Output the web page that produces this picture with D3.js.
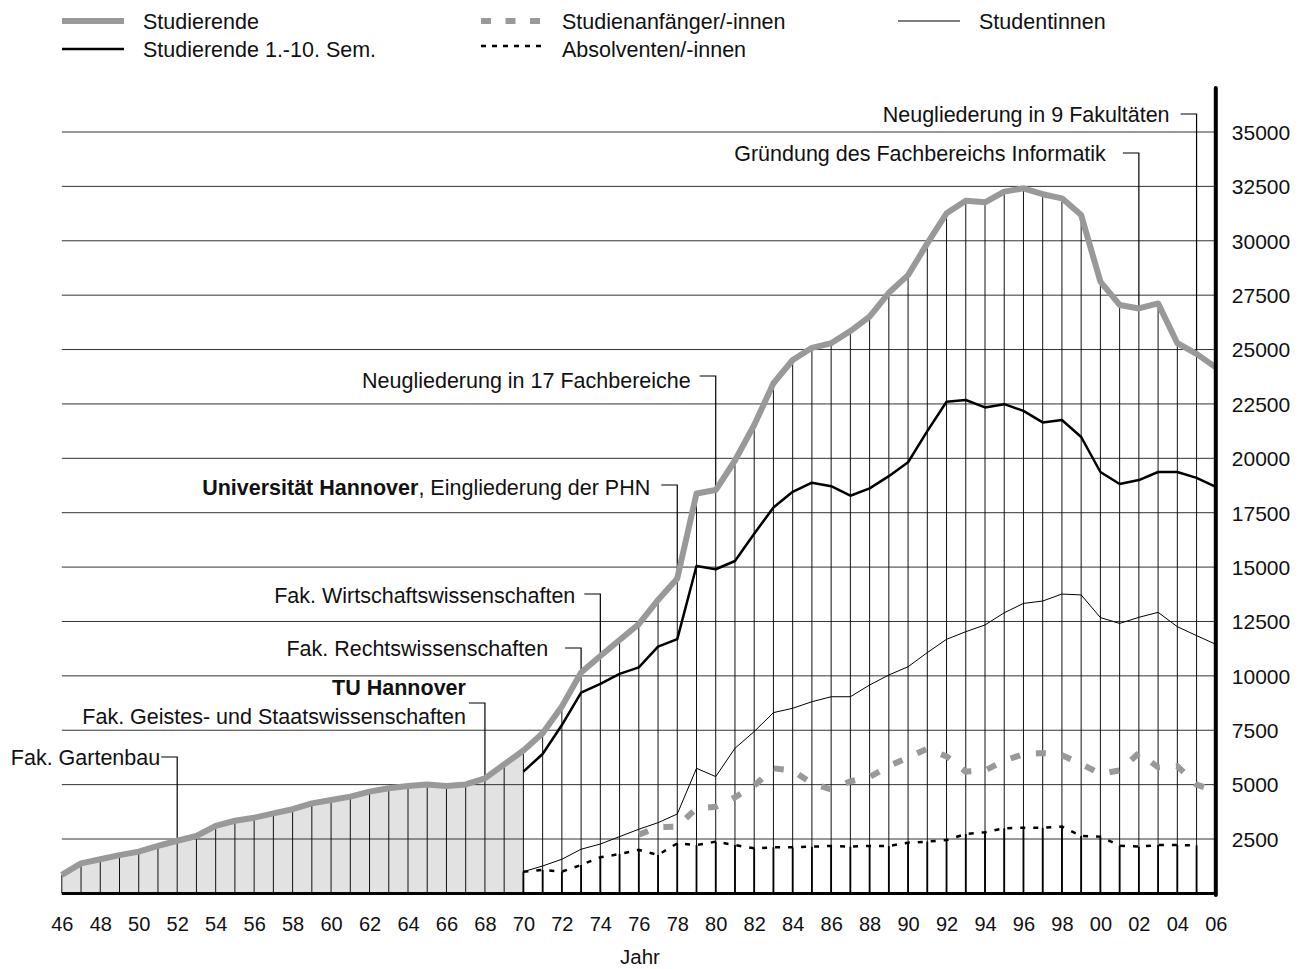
<!DOCTYPE html>
<html lang="de">
<head>
<meta charset="utf-8">
<title>Studierende 1946-2006</title>
<style>
  body { margin: 0; background: #fff; }
  svg { display: block; font-family: "Liberation Sans", Arial, sans-serif; }
  .lbl { font-size: 21.5px; fill: #111; }
</style>
</head>
<body>
<script src="https://cdnjs.cloudflare.com/ajax/libs/d3/7.8.5/d3.min.js"></script>
<script>
// ---- data ----
const years = d3.range(1946, 2007);
const xTicks = d3.range(1946, 2007, 2);
const yTicks = d3.range(2500, 35001, 2500);

// Studierende, 1946-2006
const studierende = [850, 1380, 1570, 1760, 1920, 2180, 2420, 2640, 3100, 3340,
  3480, 3680, 3870, 4140, 4290, 4450, 4680, 4830, 4940, 5010,
  4940, 5010, 5290, 5930, 6570, 7360, 8590, 10150, 10910, 11650,
  12380, 13490, 14480, 18380, 18540, 19900, 21530, 23450, 24520, 25080,
  25290, 25850, 26510, 27610, 28420, 29880, 31260, 31840, 31770, 32260,
  32410, 32140, 31950, 31180, 28120, 27050, 26890, 27120, 25290, 24800, 24180];

// Studierende 1.-10. Sem., 1970-2006
const sem110Start = 1970;
const sem110 = [5600, 6410, 7740, 9230, 9630, 10090, 10390, 11340, 11690, 15050,
  14900, 15280, 16530, 17740, 18460, 18880, 18720, 18280, 18620, 19180,
  19820, 21250, 22600, 22680, 22340, 22490, 22180, 21650, 21760, 20980,
  19370, 18820, 19000, 19370, 19370, 19100, 18690];

// Studentinnen, 1970-2006
const studentinnenStart = 1970;
const studentinnen = [1000, 1260, 1570, 2030, 2270, 2610, 2950, 3250, 3650, 5750,
  5370, 6670, 7440, 8310, 8510, 8810, 9040, 9040, 9580, 10040,
  10420, 11070, 11680, 12030, 12340, 12900, 13330, 13440, 13760, 13720,
  12680, 12410, 12690, 12920, 12260, 11850, 11450];

// Studienanfänger/-innen, 1976-2006
const anfaengerStart = 1976;
const anfaenger = [2700, 3050, 3070, 3910, 3980, 4420, 4950, 5750, 5650, 5050,
  4780, 5150, 5350, 5850, 6250, 6650, 6300, 5600, 5650, 6100,
  6400, 6450, 6350, 5950, 5500, 5650, 6450, 5800, 5850, 5000, 4700];

// Absolventen/-innen, 1970-2005
const absolventenStart = 1970;
const absolventen = [1000, 1080, 1000, 1310, 1660, 1810, 2000, 1770, 2300, 2220,
  2380, 2220, 2070, 2120, 2120, 2150, 2180, 2150, 2180, 2180,
  2330, 2380, 2450, 2730, 2810, 2990, 3020, 3020, 3070, 2640,
  2610, 2190, 2150, 2220, 2220, 2210];

const legendLabels = ["Studierende", "Studierende 1.-10. Sem.", "Studienanfänger/-innen",
  "Absolventen/-innen", "Studentinnen"];

// notes: year, lines of [text, bold] segments
const noteYears = [1952, 1968, 1973, 1974, 1978, 1980, 2002, 2005];
const noteLines = [
  [[["Fak. Gartenbau", 0]]],
  [[["TU Hannover", 1]], [["Fak. Geistes- und Staatswissenschaften", 0]]],
  [[["Fak. Rechtswissenschaften", 0]]],
  [[["Fak. Wirtschaftswissenschaften", 0]]],
  [[["Universität Hannover", 1], [", Eingliederung der PHN", 0]]],
  [[["Neugliederung in 17 Fachbereiche", 0]]],
  [[["Gründung des Fachbereichs Informatik", 0]]],
  [[["Neugliederung in 9 Fakultäten", 0]]]
];

// ---- layout ----
const W = 1304, H = 969;
const x = d3.scaleLinear().domain([1946, 2006]).range([61.8, 1215.8]);
const y = d3.scaleLinear().domain([0, 35000]).range([893.4, 132]);

const svg = d3.select("body").append("svg").attr("width", W).attr("height", H);
svg.append("rect").attr("width", W).attr("height", H).attr("fill", "#fff");

const pts = (arr, start) => arr.map((v, i) => [start + i, v]);
const stud = pts(studierende, 1946);
const line = d3.line().x(d => x(d[0])).y(d => y(d[1]));

// gray area up to 1970
const area = d3.area().x(d => x(d[0])).y0(y(0)).y1(d => y(d[1]));
svg.append("path")
  .datum(stud.filter(d => d[0] <= 1970))
  .attr("d", area)
  .attr("fill", "#e2e2e2");

// gridlines
svg.append("g").selectAll("line").data(yTicks).join("line")
  .attr("x1", x(1946)).attr("x2", x(2006))
  .attr("y1", d => y(d)).attr("y2", d => y(d))
  .attr("stroke", "#333").attr("stroke-width", 1);

// year lines up to Studierende
svg.append("g").selectAll("line").data(stud).join("line")
  .attr("x1", d => x(d[0])).attr("x2", d => x(d[0]))
  .attr("y1", y(0)).attr("y2", d => y(d[1]))
  .attr("stroke", "#111").attr("stroke-width", 1);

// darker bottom part up to Absolventen
svg.append("g").selectAll("line").data(pts(absolventen, absolventenStart)).join("line")
  .attr("x1", d => x(d[0])).attr("x2", d => x(d[0]))
  .attr("y1", y(0)).attr("y2", d => y(d[1]))
  .attr("stroke", "#000").attr("stroke-width", 1.8);

// notes
const leaderY = [757, 703, 648, 594, 485, 376, 153, 114];
const textBase = [[765], [695, 724], [656], [603], [495], [388], [161], [122]];
const gap = [1, 3, 17, 9, 11, 9, 17, 11];
const hook = 16;
const notes = svg.append("g");
noteYears.forEach((yr, i) => {
  const xv = x(yr);
  notes.append("path")
    .attr("d", `M${xv - hook},${leaderY[i]}H${xv}V${y(studierende[yr - 1946])}`)
    .attr("fill", "none").attr("stroke", "#000").attr("stroke-width", 1.2);
  noteLines[i].forEach((segs, j) => {
    const t = notes.append("text").attr("class", "lbl")
      .attr("x", xv - hook - gap[i]).attr("y", textBase[i][j])
      .attr("text-anchor", "end");
    segs.forEach(s => t.append("tspan").attr("font-weight", s[1] ? "bold" : null).text(s[0]));
  });
});

// series
svg.append("path").datum(pts(anfaenger, anfaengerStart)).attr("d", line)
  .attr("fill", "none").attr("stroke", "#999").attr("stroke-width", 6)
  .attr("stroke-dasharray", "10,16");
svg.append("path").datum(pts(absolventen, absolventenStart)).attr("d", line)
  .attr("fill", "none").attr("stroke", "#000").attr("stroke-width", 2.5)
  .attr("stroke-dasharray", "5,8");
svg.append("path").datum(pts(studentinnen, studentinnenStart)).attr("d", line)
  .attr("fill", "none").attr("stroke", "#000").attr("stroke-width", 1);
svg.append("path").datum(pts(sem110, sem110Start)).attr("d", line)
  .attr("fill", "none").attr("stroke", "#000").attr("stroke-width", 2.5)
  .attr("stroke-linejoin", "round");
svg.append("path").datum(stud).attr("d", line)
  .attr("fill", "none").attr("stroke", "#999").attr("stroke-width", 6)
  .attr("stroke-linejoin", "round");

// axes
const xAxis = svg.append("g").attr("transform", `translate(0,${y(0)})`)
  .call(d3.axisBottom(x).tickValues(xTicks).tickSize(0).tickPadding(23)
    .tickFormat(d => String(d).slice(2)));
xAxis.select(".domain").remove();
xAxis.attr("font-size", 20).attr("font-family", null).attr("color", "#111");

const yAxis = svg.append("g").attr("transform", `translate(${x(2006)},0)`)
  .call(d3.axisRight(y).tickValues(yTicks).tickSize(0).tickPadding(16)
    .tickFormat(d3.format("d")));
yAxis.select(".domain").remove();
yAxis.attr("font-size", 21).attr("font-family", null).attr("color", "#111");
yAxis.selectAll("text").attr("dy", "0.35em");

svg.append("line").attr("x1", x(1946)).attr("x2", x(2006) + 1.5)
  .attr("y1", y(0)).attr("y2", y(0)).attr("stroke", "#000").attr("stroke-width", 3);
svg.append("line").attr("x1", x(2006)).attr("x2", x(2006))
  .attr("y1", 88).attr("y2", y(0) + 1.5).attr("stroke", "#000").attr("stroke-width", 4)
  .attr("stroke-linecap", "round");

svg.append("text").attr("x", 640).attr("y", 964)
  .attr("text-anchor", "middle").attr("fill", "#111").style("font-size", "20.5px").text("Jahr");

// legend
const legend = [
  { x: 62, y: 21, ty: 29, stroke: "#999", w: 6, dash: null },
  { x: 62, y: 49, ty: 57, stroke: "#000", w: 2.5, dash: null },
  { x: 481, y: 21, ty: 29, stroke: "#999", w: 6, dash: "10,14.5" },
  { x: 481, y: 46, ty: 57, stroke: "#000", w: 2.5, dash: "5,6" },
  { x: 898, y: 21, ty: 29, stroke: "#000", w: 1, dash: null }
];
legend.forEach((l, i) => {
  svg.append("line").attr("x1", l.x).attr("x2", l.x + 62).attr("y1", l.y).attr("y2", l.y)
    .attr("stroke", l.stroke).attr("stroke-width", l.w).attr("stroke-dasharray", l.dash);
  svg.append("text").attr("class", "lbl").attr("x", l.x + 81).attr("y", l.ty).text(legendLabels[i]);
});
</script>
</body>
</html>
